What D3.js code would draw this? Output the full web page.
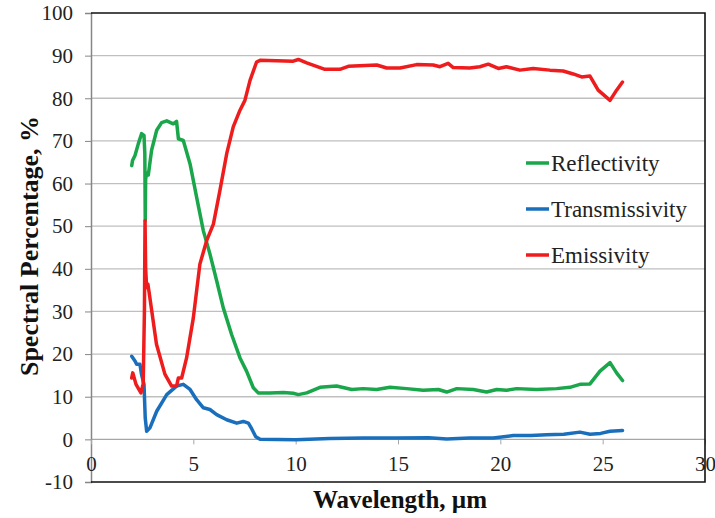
<!DOCTYPE html>
<html>
<head>
<meta charset="utf-8">
<script src="https://d3js.org/d3.v7.min.js"></script>
<style>
  body { margin: 0; background: #fff; }
</style>
</head>
<body>
<div id="chart"></div>
<script>
// wavelength (um) and percentage pairs
const reflectivity = [
  [1.99, 64.2], [2.03, 65.4], [2.15, 66.6], [2.31, 69.3], [2.47, 71.7], [2.59, 71.3],
  [2.63, 67], [2.65, 51.3], [2.67, 61], [2.72, 62.5], [2.8, 62], [2.96, 67.8],
  [3.21, 72.5], [3.45, 74.3], [3.7, 74.7], [4.02, 74], [4.18, 74.6], [4.27, 70.5],
  [4.51, 70.1], [4.84, 64.6], [5.16, 56.8], [5.49, 48.9], [5.81, 43.5], [6.14, 37.2],
  [6.46, 30.9], [6.87, 24.6], [7.28, 19.1], [7.6, 16], [7.93, 12.1], [8.17, 10.9],
  [8.74, 10.9], [9.4, 11], [9.88, 10.8], [10.13, 10.5], [10.54, 10.9], [11.19, 12.2],
  [12.0, 12.5], [12.74, 11.7], [13.3, 11.9], [13.96, 11.7], [14.61, 12.2], [15.42, 11.9],
  [16.23, 11.5], [16.97, 11.7], [17.38, 11.1], [17.87, 11.9], [18.68, 11.7], [19.33, 11.1],
  [19.82, 11.7], [20.3, 11.5], [20.8, 11.9], [21.77, 11.7], [22.75, 11.9], [23.4, 12.2],
  [23.89, 12.9], [24.38, 13.0], [24.87, 16], [25.36, 18], [25.68, 15.6], [25.97, 13.8]
];
const transmissivity = [
  [1.99, 19.5], [2.15, 18.4], [2.23, 17.6], [2.39, 17.6], [2.47, 15.2], [2.59, 12.9],
  [2.65, 5], [2.72, 1.9], [2.88, 2.7], [3.21, 6.6], [3.7, 10.5], [4.18, 12.5],
  [4.51, 12.9], [4.84, 11.7], [5.16, 9.3], [5.49, 7.4], [5.81, 7.0], [6.14, 5.8],
  [6.63, 4.6], [7.12, 3.8], [7.44, 4.2], [7.69, 3.8], [7.85, 2.5], [8.05, 0.6],
  [8.26, 0], [10.0, -0.1], [11.67, 0.2], [13.3, 0.3], [14.93, 0.3], [16.5, 0.4],
  [17.38, 0.1], [18.5, 0.3], [19.65, 0.3], [20.63, 0.9], [21.5, 0.9], [22.26, 1.1],
  [23.1, 1.2], [23.89, 1.7], [24.38, 1.2], [24.9, 1.4], [25.36, 1.9], [25.97, 2.1]
];
const emissivity = [
  [1.99, 14.4], [2.04, 15.6], [2.2, 12.9], [2.44, 10.9], [2.55, 13], [2.61, 30],
  [2.64, 51.3], [2.67, 40], [2.72, 35.6], [2.78, 36.4], [2.83, 34.8], [3.2, 22.3],
  [3.61, 15.3], [3.94, 12.5], [4.18, 12.5], [4.27, 14.4], [4.43, 14.4], [4.67, 19.1],
  [5.0, 28.5], [5.32, 41.1], [5.65, 46.6], [5.98, 50.5], [6.3, 58.4], [6.63, 67],
  [6.95, 73.3], [7.28, 77.2], [7.52, 79.5], [7.77, 84.2], [8.09, 88.5], [8.26, 88.9],
  [9.88, 88.7], [10.13, 89.1], [10.54, 88.3], [11.43, 86.8], [12.16, 86.8], [12.57, 87.5],
  [13.96, 87.8], [14.45, 87.1], [15.1, 87.1], [15.91, 87.9], [16.72, 87.8], [17.05, 87.4],
  [17.45, 88.2], [17.7, 87.2], [18.5, 87.1], [19.0, 87.4], [19.41, 88], [19.9, 87],
  [20.3, 87.4], [20.96, 86.6], [21.6, 87], [22.42, 86.6], [23.07, 86.4], [23.56, 85.7],
  [23.97, 85], [24.38, 85.2], [24.78, 81.9], [25.36, 79.5], [25.68, 81.9], [25.97, 83.8]
];
const seriesNames = ["Reflectivity", "Transmissivity", "Emissivity"];
const seriesColors = ["#1aa64a", "#1a6fbd", "#ee1c1c"];
const xTicks = [0, 5, 10, 15, 20, 25, 30];
const yTicks = [-10, 0, 10, 20, 30, 40, 50, 60, 70, 80, 90, 100];

const W = 715, H = 518;
const fontFam = "Liberation Serif";
const margin = { top: 13, left: 91 };
const width = 705 - margin.left;
const height = 482 - margin.top;

const svg = d3.select("#chart").append("svg")
  .attr("width", W).attr("height", H)
  .attr("font-family", fontFam);
const g = svg.append("g").attr("transform", `translate(${margin.left},${margin.top})`);

const x = d3.scaleLinear().domain([0, 30]).range([0, width]);
const y = d3.scaleLinear().domain([-10, 100]).range([height, 0]);

// gridlines
g.append("g").selectAll("line").data(yTicks.filter(d => d > -10 && d < 100)).enter()
  .append("line")
  .attr("x1", 0).attr("x2", width)
  .attr("y1", d => y(d)).attr("y2", d => y(d))
  .attr("stroke", d => d === 0 ? "#a6a6a6" : "#bfbfbf")
  .attr("stroke-width", 1.3);

// y axis
const yAxis = g.append("g")
  .call(d3.axisLeft(y).tickValues(yTicks).tickFormat(d => String(d)).tickSize(6).tickPadding(12));
yAxis.attr("font-family", null);
yAxis.select(".domain").attr("stroke", "#868686").attr("stroke-width", 1.5);
yAxis.selectAll(".tick line").attr("stroke", "#868686");
yAxis.selectAll("text").attr("font-size", 21).attr("fill", "#222").attr("font-family", fontFam);

// x axis sitting on 0
const xAxis = g.append("g").attr("transform", `translate(0,${y(0)})`)
  .call(d3.axisBottom(x).tickValues(xTicks).tickFormat(d => String(d)).tickSize(5).tickPadding(12));
xAxis.attr("font-family", null);
xAxis.select(".domain").remove();
xAxis.selectAll(".tick line").attr("stroke", "#a6a6a6");
xAxis.selectAll("text").attr("font-size", 21).attr("fill", "#222").attr("font-family", fontFam);

// frame
g.append("path")
  .attr("d", `M0,0H${width}V${height}H0`)
  .attr("fill", "none").attr("stroke", "#111").attr("stroke-width", 1.6);

// lines
const line = d3.line().x(d => x(d[0])).y(d => y(d[1]));
[reflectivity, transmissivity, emissivity].forEach((data, i) => {
  g.append("path").datum(data)
    .attr("d", line)
    .attr("fill", "none")
    .attr("stroke", seriesColors[i])
    .attr("stroke-width", 3.5)
    .attr("stroke-linejoin", "round")
    .attr("stroke-linecap", "round");
});

// legend
const legend = svg.append("g").attr("transform", "translate(526,163)");
seriesNames.forEach((name, i) => {
  const row = legend.append("g").attr("transform", `translate(0,${i * 46})`);
  row.append("line").attr("x1", 0).attr("x2", 23).attr("y1", 0).attr("y2", 0)
    .attr("stroke", seriesColors[i]).attr("stroke-width", 3.5);
  row.append("text").attr("x", 25).attr("y", 8)
    .attr("font-family", fontFam)
    .attr("font-size", 23).attr("fill", "#222").text(name);
});

// axis titles
svg.append("text")
  .attr("x", 400).attr("y", 508)
  .attr("text-anchor", "middle")
  .attr("font-family", fontFam)
  .attr("font-size", 25).attr("font-weight", "bold").attr("fill", "#111")
  .text("Wavelength, µm");

svg.append("text")
  .attr("transform", "translate(38,246)rotate(-90)")
  .attr("text-anchor", "middle")
  .attr("font-family", fontFam)
  .attr("font-size", 26).attr("font-weight", "bold").attr("fill", "#111")
  .text("Spectral Percentage, %");
</script>
</body>
</html>
